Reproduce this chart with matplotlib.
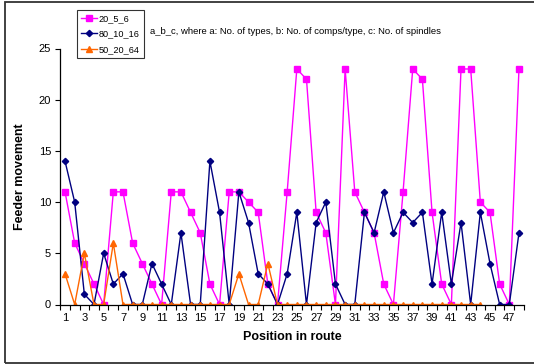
import matplotlib
matplotlib.use("Agg")
import matplotlib.pyplot as plt
from matplotlib.patches import Rectangle

plt.rcParams['font.family'] = ['Liberation Sans', 'DejaVu Sans']

# Данные
positions = list(range(1, 49))
s_20_5_6 = [11, 6, 4, 2, 0, 11, 11, 6, 4, 2,
            0, 11, 11, 9, 7, 2, 0, 11, 11, 10,
            9, 2, 0, 11, 23, 22, 9, 7, 0, 23,
            11, 9, 7, 2, 0, 11, 23, 22, 9, 2,
            0, 23, 23, 10, 9, 2, 0, 23]
s_80_10_16 = [14, 10, 1, 0, 5, 2, 3, 0, 0, 4,
              2, 0, 7, 0, 0, 14, 9, 0, 11, 8,
              3, 2, 0, 3, 9, 0, 8, 10, 2, 0,
              0, 9, 7, 11, 7, 9, 8, 9, 2, 9,
              2, 8, 0, 9, 4, 0, 0, 7]
s_50_20_64 = [3, 0, 5, 0, 0, 6, 0, 0, 0, 0,
              0, 0, 0, 0, 0, 0, 0, 0, 3, 0,
              0, 4, 0, 0, 0, 0, 0, 0, 0, 0,
              0, 0, 0, 0, 0, 0, 0, 0, 0, 0,
              0, 0, 0, 0]
labels = ['20_5_6', '80_10_16', '50_20_64']
x_ticklabels = [str(i) for i in range(1, 48, 2)]

W, H = 534, 364
fig = plt.figure(figsize=(W / 100, H / 100), dpi=100)
ax = fig.add_axes([60.2 / W, (H - 304.5) / H, (523.8 - 60.2) / W, (304.5 - 48.5) / H])

ax.plot(positions, s_20_5_6, color='#FF00FF', marker='s', markersize=4.5,
        linewidth=1.0, label=labels[0])
ax.plot(positions, s_80_10_16, color='#000080', marker='D', markersize=3.2,
        linewidth=1.0, label=labels[1])
ax.plot(positions[:len(s_50_20_64)], s_50_20_64, color='#FF6600', marker='^',
        markersize=4.5, linewidth=1.0, label=labels[2])

ax.set_xlim(0.5, 48.5)
ax.set_ylim(0, 25)
ax.set_yticks(range(0, 26, 5))
ax.set_xticks(range(1, 48, 2))
ax.set_xticklabels(x_ticklabels)
ax.set_xticks([i + 0.5 for i in range(0, 49)], minor=True)
ax.tick_params(axis='x', which='major', length=0, pad=6, labelsize=8)
ax.tick_params(axis='x', which='minor', length=3.5, direction='out', width=0.8)
ax.tick_params(axis='y', length=3.5, width=0.8, labelsize=8, pad=3)

for side in ['top', 'right']:
    ax.spines[side].set_visible(False)
for side in ['left', 'bottom']:
    ax.spines[side].set_linewidth(0.9)

ax.set_xlabel('Position in route', fontsize=9, fontweight='bold', labelpad=6)
ax.set_ylabel('Feeder movement', fontsize=9, fontweight='bold', labelpad=9)

leg = fig.legend(loc='upper left', bbox_to_anchor=(76.5 / W, 1 - 10 / H),
                 fontsize=6.6, frameon=True, fancybox=False, edgecolor='black',
                 handlelength=1.8, handletextpad=0.15, borderpad=0.45,
                 labelspacing=0.7, borderaxespad=0)
leg.get_frame().set_linewidth(0.8)

fig.text(150 / W, 1 - 31.7 / H,
         'a_b_c, where a: No. of types, b: No. of comps/type, c: No. of spindles',
         fontsize=6.8, va='center', ha='left')

# рамка диаграммы
fig.patches.append(Rectangle((5.5 / W, 1.5 / H), 1.0, (H - 3) / H,
                             transform=fig.transFigure, fill=False,
                             edgecolor='#333333', linewidth=1.3))

fig.savefig('out.png', dpi=100)
